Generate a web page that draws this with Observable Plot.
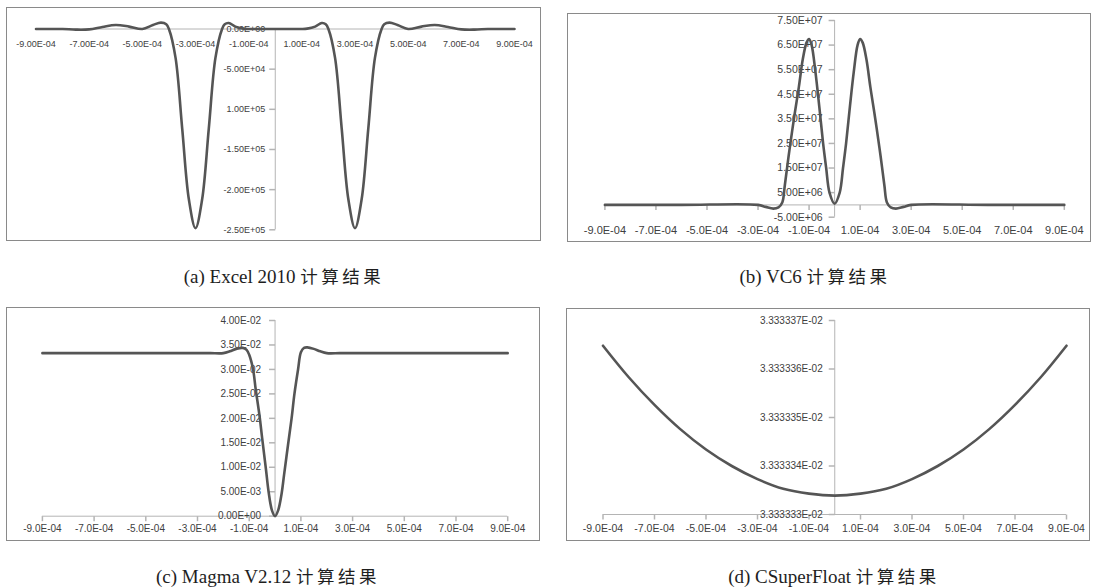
<!DOCTYPE html>
<html><head><meta charset="utf-8">
<script src="https://cdn.jsdelivr.net/npm/d3@7"></script>
<script src="https://cdn.jsdelivr.net/npm/@observablehq/plot@0.6"></script>
<style>
body{margin:0;background:#fff;}
#root{position:relative;width:1100px;height:588px;overflow:hidden;}
.panel{position:absolute;}
.panel svg{position:absolute;left:0;top:0;}
.border{position:absolute;left:0;top:0;right:0;bottom:0;border:1px solid #8a8a8a;pointer-events:none;}
.cap{position:absolute;width:340px;text-align:center;font-family:"Liberation Serif","Times New Roman",serif;font-size:19px;line-height:20px;color:#1e1e1e;white-space:nowrap;}
.cap .zh{font-family:"Noto Sans CJK SC",sans-serif;letter-spacing:3.5px;font-size:17.5px;}
</style></head><body><div id="root"></div>
<script>
// ---------- Panel (a) Excel 2010 ----------
const aX = [-9.0e-4,-8.5e-4,-8.0e-4,-7.5e-4,-7.0e-4,-6.5e-4,-6.0e-4,-5.5e-4,-5.0e-4,-4.6e-4,-4.3e-4,-4.1e-4,-4.0e-4,-3.75e-4,-3.5e-4,-3.25e-4,-3.0e-4,-2.75e-4,-2.5e-4,-2.25e-4,-2.0e-4,-1.9e-4,-1.75e-4,-1.5e-4,-1.2e-4,-1.0e-4,-0.5e-4,0,0.5e-4,1.0e-4,1.2e-4,1.5e-4,1.75e-4,1.9e-4,2.0e-4,2.25e-4,2.5e-4,2.75e-4,3.0e-4,3.25e-4,3.5e-4,3.75e-4,4.0e-4,4.1e-4,4.3e-4,4.6e-4,5.0e-4,5.5e-4,6.0e-4,6.5e-4,7.0e-4,7.5e-4,8.0e-4,8.5e-4,9.0e-4];
const aY = [0,0,0,-800,-500,2500,5000,3000,0,5000,7900,6000,0,-36000,-124000,-212000,-248000,-212000,-124000,-36000,0,6000,7500,3000,500,0,0,0,0,0,500,3000,7500,6000,0,-36000,-124000,-212000,-248000,-212000,-124000,-36000,0,6000,7900,5000,0,3000,5000,2500,-500,-800,0,0,0];
const aYTicks = [0,-5e4,-1e5,-1.5e5,-2e5,-2.5e5];
const aYLabels = ["0.00E+00","-5.00E+04","1.00E+05","-1.50E+05","-2.00E+05","-2.50E+05"];
const aXTicks = [-9e-4,-7e-4,-5e-4,-3e-4,-1e-4,1e-4,3e-4,5e-4,7e-4,9e-4];
const aXLabels = ["-9.00E-04","-7.00E-04","-5.00E-04","-3.00E-04","-1.00E-04","1.00E-04","3.00E-04","5.00E-04","7.00E-04","9.00E-04"];

// ---------- Panel (b) VC6 ----------
const bX = [-9.0e-4,-6.0e-4,-3.0e-4,-2.7e-4,-2.4e-4,-2.2e-4,-2.05e-4,-1.95e-4,-1.8e-4,-1.65e-4,-1.55e-4,-1.4e-4,-1.25e-4,-1.1e-4,-1.0e-4,-0.9e-4,-0.75e-4,-0.6e-4,-0.45e-4,-0.33e-4,-0.2e-4,0,0.2e-4,0.33e-4,0.45e-4,0.6e-4,0.75e-4,0.9e-4,1.0e-4,1.1e-4,1.25e-4,1.4e-4,1.55e-4,1.65e-4,1.8e-4,1.95e-4,2.05e-4,2.2e-4,2.4e-4,2.7e-4,3.0e-4,6.0e-4,9.0e-4];
const bY = [0,0,0,-0.08e7,-0.15e7,-0.1e7,0.1e7,0.8e7,2.0e7,3.1e7,3.8e7,4.8e7,5.9e7,6.6e7,6.75e7,6.5e7,5.4e7,4.0e7,2.5e7,1.5e7,0.5e7,0.05e7,0.5e7,1.5e7,2.5e7,4.0e7,5.4e7,6.5e7,6.75e7,6.6e7,5.9e7,4.8e7,3.8e7,3.1e7,2.0e7,0.8e7,0.1e7,-0.1e7,-0.15e7,-0.08e7,0,0,0];
const bYTicks = [-5e6,5e6,1.5e7,2.5e7,3.5e7,4.5e7,5.5e7,6.5e7,7.5e7];
const bYLabels = ["-5.00E+06","5.00E+06","1.50E+07","2.50E+07","3.50E+07","4.50E+07","5.50E+07","6.50E+07","7.50E+07"];
const bXTicks = [-9e-4,-7e-4,-5e-4,-3e-4,-1e-4,1e-4,3e-4,5e-4,7e-4,9e-4];
const bXLabels = ["-9.0E-04","-7.0E-04","-5.0E-04","-3.0E-04","-1.0E-04","1.0E-04","3.0E-04","5.0E-04","7.0E-04","9.0E-04"];

// ---------- Panel (c) Magma V2.12 ----------
const cX = [-9.0e-4,-6.0e-4,-3.0e-4,-2.5e-4,-2.0e-4,-1.75e-4,-1.5e-4,-1.25e-4,-1.1e-4,-1.0e-4,-0.85e-4,-0.75e-4,-0.6e-4,-0.5e-4,-0.35e-4,-0.25e-4,-0.12e-4,0,0.12e-4,0.25e-4,0.35e-4,0.5e-4,0.64e-4,0.75e-4,0.89e-4,1.0e-4,1.12e-4,1.25e-4,1.5e-4,1.75e-4,2.0e-4,2.5e-4,3.0e-4,6.0e-4,9.0e-4];
const cY = [0.03333,0.03333,0.03333,0.03333,0.03333,0.0337,0.0342,0.0344,0.0340,0.0330,0.0300,0.0260,0.0205,0.0160,0.0095,0.0050,0.0012,0,0.0012,0.0045,0.0085,0.0145,0.0200,0.0250,0.0300,0.0335,0.0344,0.0345,0.0342,0.0337,0.03333,0.03333,0.03333,0.03333,0.03333];
const cYTicks = [0,0.005,0.01,0.015,0.02,0.025,0.03,0.035,0.04];
const cYLabels = ["0.00E+00","5.00E-03","1.00E-02","1.50E-02","2.00E-02","2.50E-02","3.00E-02","3.50E-02","4.00E-02"];
const cXTicks = bXTicks;
const cXLabels = bXLabels;

// ---------- Panel (d) CSuperFloat ----------
const dX = [-9e-4,-8e-4,-7e-4,-6e-4,-5e-4,-4e-4,-3e-4,-2e-4,-1e-4,0,1e-4,2e-4,3e-4,4e-4,5e-4,6e-4,7e-4,8e-4,9e-4];
const dY = [0.0333333648,0.0333333583,0.0333333526,0.0333333476,0.0333333434,0.0333333400,0.0333333373,0.0333333353,0.0333333343,0.0333333339,0.0333333343,0.0333333353,0.0333333373,0.0333333400,0.0333333434,0.0333333476,0.0333333526,0.0333333583,0.0333333648];
const dYTicks = [0.03333333,0.03333334,0.03333335,0.03333336,0.03333337];
const dYLabels = ["3.333333E-02","3.333334E-02","3.333335E-02","3.333336E-02","3.333337E-02"];
const dXTicks = bXTicks;
const dXLabels = bXLabels;

const captions = [
  {t:"(a) Excel 2010 ", zh:"计算结果"},
  {t:"(b) VC6 ", zh:"计算结果"},
  {t:"(c) Magma V2.12 ", zh:"计算结果"},
  {t:"(d) CSuperFloat ", zh:"计算结果"}
];

const axisColor = "#b4b4b4";
const textColor = "#404040";
const lineColor = "#555555";
const tickLeft = {draw(ctx){ctx.moveTo(-6,0); ctx.lineTo(0,0);}};
const tickDown = {draw(ctx){ctx.moveTo(0,0); ctx.lineTo(0,5);}};

const root = document.getElementById("root");

function makePanel(c) {
  const yT = c.yTicks.map((v,i)=>({v, label: c.yLabels[i]}));
  const xT = c.xTicks.map((v,i)=>({v, label: c.xLabels[i]}));
  const pts = c.xs.map((x,i)=>({x, y: c.ys[i]}));
  const svg = Plot.plot({
    width: c.W, height: c.H,
    marginLeft: c.m[0], marginRight: c.m[1], marginTop: c.m[2], marginBottom: c.m[3],
    x: {domain: [-9e-4, 9e-4], axis: null},
    y: {domain: c.yDomain, axis: null},
    style: {background: "transparent", fontFamily: "'Liberation Sans', Arial, sans-serif", overflow: "visible"},
    marks: [
      Plot.ruleY([c.xAxisAt], {x1: -9e-4, x2: 9e-4, stroke: axisColor}),
      Plot.ruleX([0], {y1: c.yDomain[0], y2: c.yDomain[1], stroke: axisColor}),
      Plot.dot(yT, {x: 0, y: "v", symbol: tickLeft, stroke: axisColor, fill: "none"}),
      c.xTickMarks ? Plot.dot(xT, {x: "v", y: c.xAxisAt, symbol: tickDown, stroke: axisColor, fill: "none"}) : null,
      Plot.text(yT, {x: 0, y: "v", text: "label", textAnchor: "end", dx: c.yDx, fontSize: c.yFont, fill: textColor, ariaLabel: "ylabels"}),
      Plot.text(xT, {x: "v", y: c.xLabelAt, dy: c.xDy, text: "label", fontSize: c.xFont, fill: textColor, ariaLabel: "xlabels"}),
      Plot.line(pts, {x: "x", y: "y", curve: "catmull-rom", stroke: lineColor, strokeWidth: 2.6})
    ]
  });
  d3.select(svg).selectAll('g[aria-label="ylabels"] text').style("letter-spacing", c.yLs || "0px");
  d3.select(svg).selectAll('g[aria-label="xlabels"] text').style("letter-spacing", c.xLs || "0px");
  const div = document.createElement("div");
  div.className = "panel";
  div.style.left = c.left + "px"; div.style.top = c.top + "px";
  div.style.width = c.W + "px"; div.style.height = c.H + "px";
  div.appendChild(svg);
  const b = document.createElement("div"); b.className = "border"; div.appendChild(b);
  root.appendChild(div);
}

makePanel({left: 6, top: 7, W: 535, H: 234, m: [29.5, 27, 21.5, 11.7],
  yDomain: [-2.5e5, 0], xs: aX, ys: aY, yTicks: aYTicks, yLabels: aYLabels, xTicks: aXTicks, xLabels: aXLabels,
  xAxisAt: 0, xLabelAt: 0, xDy: 15, yDx: -10, yFont: 9, xFont: 9, xTickMarks: false});

makePanel({left: 567, top: 13, W: 524, H: 229, m: [37.4, 27.2, 7, 25.3],
  yDomain: [-5e6, 7.5e7], xs: bX, ys: bY, yTicks: bYTicks, yLabels: bYLabels, xTicks: bXTicks, xLabels: bXLabels,
  xAxisAt: 0, xLabelAt: -5e6, xDy: 13.3, yDx: -12, yFont: 10.5, xFont: 11, xTickMarks: true, yLs: "0.5px"});

makePanel({left: 6, top: 307, W: 534, H: 234, m: [35.9, 32.8, 13, 25.3],
  yDomain: [0, 0.04], xs: cX, ys: cY, yTicks: cYTicks, yLabels: cYLabels, xTicks: cXTicks, xLabels: cXLabels,
  xAxisAt: 0, xLabelAt: 0, xDy: 12.5, yDx: -14, yFont: 10, xFont: 10, xTickMarks: true});

makePanel({left: 566, top: 308, W: 524, H: 233, m: [36.5, 24, 12, 27],
  yDomain: [0.03333333, 0.03333337], xs: dX, ys: dY, yTicks: dYTicks, yLabels: dYLabels, xTicks: dXTicks, xLabels: dXLabels,
  xAxisAt: 0.03333333, xLabelAt: 0.03333333, xDy: 14, yDx: -12, yFont: 10, xFont: 10.5, xTickMarks: true, yLs: "1.8px"});

const capPos = [[284, 266], [815, 266], [268, 566], [834, 566]];
captions.forEach((c, i) => {
  const d = document.createElement("div");
  d.className = "cap";
  d.style.left = (capPos[i][0] - 170) + "px";
  d.style.top = capPos[i][1] + "px";
  d.textContent = c.t;
  const s = document.createElement("span"); s.className = "zh"; s.textContent = c.zh;
  d.appendChild(s);
  root.appendChild(d);
});
</script></body></html>
